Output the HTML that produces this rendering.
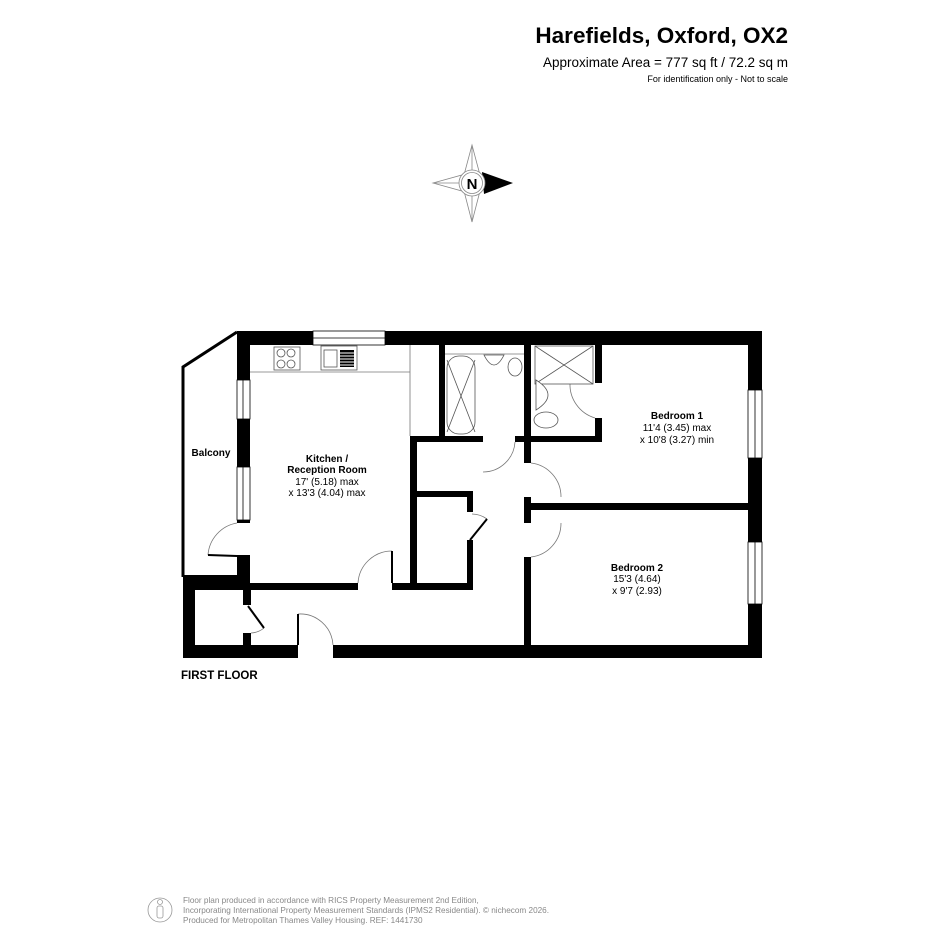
<!DOCTYPE html>
<html><head><meta charset="utf-8"><style>
html,body{margin:0;padding:0;background:#fff;}
svg{display:block;font-family:"Liberation Sans",Arial,sans-serif;}
</style></head><body>
<svg width="945" height="945" viewBox="0 0 945 945" xmlns="http://www.w3.org/2000/svg">
<rect width="945" height="945" fill="#fff"/>
<text x="788" y="43" text-anchor="end" font-size="22.5" font-weight="bold" fill="#000">Harefields, Oxford, OX2</text>
<text x="788" y="67" text-anchor="end" font-size="13.5" fill="#000">Approximate Area = 777 sq ft / 72.2 sq m</text>
<text x="788" y="82" text-anchor="end" font-size="9" fill="#000">For identification only - Not to scale</text>
<g stroke="#888" stroke-width="0.8" fill="#fff">
<polygon points="472,145 480,175 472,183 464,175"/>
<polygon points="472,222 480,191 472,183 464,191"/>
<polygon points="433,183 462,175 472,183 462,191"/>
<line x1="472" y1="145" x2="472" y2="222"/><line x1="433" y1="183" x2="472" y2="183"/>
</g>
<polygon points="513,183 482,172 484,194" fill="#000"/>
<circle cx="472" cy="183" r="13" fill="#fff" stroke="#888" stroke-width="0.8"/>
<circle cx="472" cy="183" r="10.5" fill="none" stroke="#888" stroke-width="0.8"/>
<text x="472" y="189" text-anchor="middle" font-size="15" font-weight="bold">N</text>
<polyline points="237,332 183,367 183,577" fill="none" stroke="#000" stroke-width="3"/>
<g fill="#000">
<rect x="237" y="331" width="525" height="14"/>
<rect x="748" y="331" width="14" height="327"/>
<rect x="183" y="645" width="115" height="13"/>
<rect x="333" y="645" width="429" height="13"/>
<rect x="183" y="575" width="12" height="83"/>
<rect x="183" y="575" width="67" height="15"/>
<rect x="237" y="331" width="13" height="49"/>
<rect x="237" y="419" width="13" height="48"/>
<rect x="237" y="520" width="13" height="3"/>
<rect x="237" y="555" width="13" height="35"/>
<rect x="243" y="590" width="8" height="15"/>
<rect x="243" y="633" width="8" height="12"/>
<rect x="237" y="583" width="121" height="7"/>
<rect x="392" y="583" width="81" height="7"/>
<rect x="410" y="436" width="7" height="154"/>
<rect x="439" y="345" width="6" height="97"/>
<rect x="410" y="436" width="73" height="6"/>
<rect x="515" y="436" width="16" height="6"/>
<rect x="524" y="345" width="7" height="118"/>
<rect x="531" y="436" width="71" height="6"/>
<rect x="595" y="345" width="7" height="38"/>
<rect x="595" y="418" width="7" height="24"/>
<rect x="417" y="491" width="56" height="6"/>
<rect x="467" y="491" width="6" height="21"/>
<rect x="467" y="540" width="6" height="50"/>
<rect x="524" y="497" width="7" height="26"/>
<rect x="524" y="557" width="7" height="88"/>
<rect x="531" y="503" width="218" height="7"/>
</g>
<g fill="#fff" stroke="#000" stroke-width="0.8">
<rect x="313" y="331" width="72" height="14"/><line x1="313" y1="338" x2="385" y2="338"/>
<rect x="237" y="380" width="13" height="39"/><line x1="243" y1="380" x2="243" y2="419"/>
<rect x="237" y="467" width="13" height="53"/><line x1="243" y1="467" x2="243" y2="520"/>
<rect x="748" y="390" width="14" height="68"/><line x1="755" y1="390" x2="755" y2="458"/>
<rect x="748" y="542" width="14" height="62"/><line x1="755" y1="542" x2="755" y2="604"/>
</g>
<g fill="none" stroke="#777" stroke-width="0.8">
<path d="M208,555 A35,35 0 0 1 237,523"/>
<path d="M358,583 A34,34 0 0 1 392,551"/>
<path d="M298,614 A33,33 0 0 1 333,645"/>
<path d="M483,472 A32,32 0 0 0 515,442"/>
<path d="M531,463 A34,34 0 0 1 561,497"/>
<path d="M561,523 A34,34 0 0 1 531,557"/>
<path d="M570,383 A35,35 0 0 0 595,418"/>
<path d="M472,514 A26,26 0 0 1 487,519"/>
<path d="M264,628 A22,22 0 0 1 251,633"/>
<line x1="250" y1="372" x2="410" y2="372"/><line x1="410" y1="345" x2="410" y2="436"/>
<line x1="445" y1="354" x2="524" y2="354"/>
</g>
<g stroke="#000" stroke-width="2">
<line x1="208" y1="555" x2="237" y2="556"/>
<line x1="392" y1="551" x2="392" y2="583"/>
<line x1="298" y1="614" x2="298" y2="645"/>
<line x1="470" y1="540" x2="487" y2="519"/>
<line x1="248" y1="606" x2="264" y2="628"/>
</g>
<g fill="#fff" stroke="#555" stroke-width="0.8">
<rect x="274" y="347" width="26" height="23"/>
<circle cx="281" cy="353" r="4"/><circle cx="291" cy="353" r="4"/><circle cx="281" cy="364" r="4"/><circle cx="291" cy="364" r="4"/>
<rect x="321" y="346" width="36" height="24"/><rect x="324" y="350" width="13" height="17"/>
<rect x="447" y="356" width="28" height="78" rx="12"/>
<line x1="447" y1="360" x2="475" y2="432"/><line x1="475" y1="360" x2="447" y2="432"/>
<path d="M484,355 Q494,375 504,355 Z"/>
<ellipse cx="515" cy="367" rx="7" ry="9"/>
<rect x="535" y="346" width="58" height="38"/>
<line x1="535" y1="346" x2="593" y2="384"/><line x1="593" y1="346" x2="535" y2="384"/>
<path d="M536,380 Q560,395 536,410 Z"/>
<ellipse cx="546" cy="420" rx="12" ry="8"/>
</g>
<g fill="#000"><rect x="340" y="350" width="14" height="17"/></g>
<g stroke="#fff" stroke-width="1"><line x1="340" y1="353" x2="354" y2="353"/><line x1="340" y1="356" x2="354" y2="356"/><line x1="340" y1="359" x2="354" y2="359"/><line x1="340" y1="362" x2="354" y2="362"/><line x1="340" y1="365" x2="354" y2="365"/></g>
<g font-size="10" text-anchor="middle" fill="#000">
<text x="211" y="456" font-weight="bold">Balcony</text>
<text x="327" y="462" font-weight="bold">Kitchen /</text>
<text x="327" y="473" font-weight="bold">Reception Room</text>
<text x="327" y="485">17' (5.18) max</text>
<text x="327" y="496">x 13'3 (4.04) max</text>
<text x="677" y="419" font-weight="bold">Bedroom 1</text>
<text x="677" y="431">11'4 (3.45) max</text>
<text x="677" y="443">x 10'8 (3.27) min</text>
<text x="637" y="571" font-weight="bold">Bedroom 2</text>
<text x="637" y="582">15'3 (4.64)</text>
<text x="637" y="594">x 9'7 (2.93)</text>
</g>
<text x="181" y="679" font-size="11.5" font-weight="bold">FIRST FLOOR</text>
<g stroke="#999" fill="none" stroke-width="0.8">
<circle cx="160" cy="910" r="12"/>
<circle cx="160" cy="902" r="2.5"/>
<rect x="157" y="906" width="6" height="12" rx="2"/>
</g>
<g font-size="8.2" fill="#888">
<text x="183" y="903">Floor plan produced in accordance with RICS Property Measurement 2nd Edition,</text>
<text x="183" y="913">Incorporating International Property Measurement Standards (IPMS2 Residential).   © nichecom 2026.</text>
<text x="183" y="923">Produced for Metropolitan Thames Valley Housing.   REF: 1441730</text>
</g>
</svg>
</body></html>
